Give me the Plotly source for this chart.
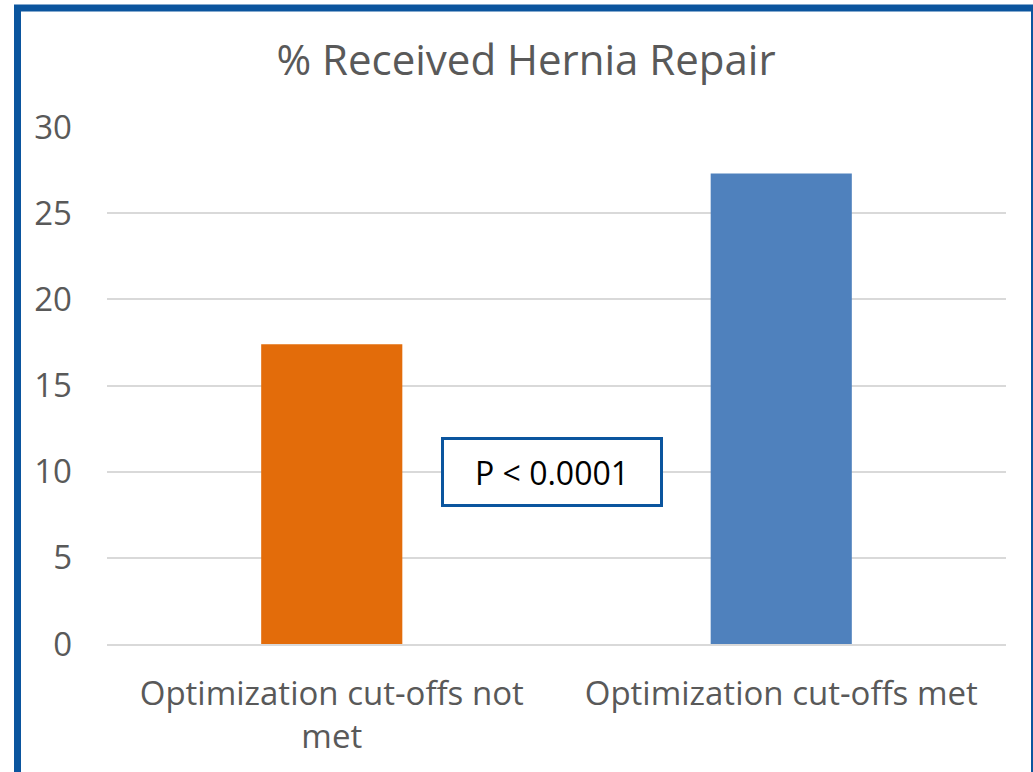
import plotly.graph_objects as go

categories = ["Optimization cut-offs not<br>met", "Optimization cut-offs met"]
values = [17.4, 27.3]
bar_colors = ["#E36C0A", "#4F81BD"]
title_text = "% Received Hernia Repair"
p_text = "P < 0.0001"

W, H = 1033, 772
L, R, T, B = 107, 27, 127, 128
FONT = "Open Sans"

fig = go.Figure()
fig.add_trace(go.Bar(x=categories, y=values, marker=dict(color=bar_colors, line=dict(width=0)),
                     width=0.314, showlegend=False))

# p-value box
fig.add_annotation(x=0.49, y=10, xref="x", yref="y", text=p_text, showarrow=False,
                   font=dict(family=FONT, size=32, color="black"),
                   bordercolor="#0B559E", borderwidth=3, borderpad=12,
                   bgcolor="white", width=192, height=40)

# outer blue frame
fig.add_shape(type="rect", xref="paper", yref="paper",
              x0=(17.5 - L) / (W - L - R), x1=(1034.5 - L) / (W - L - R),
              y0=(H - B - 800) / (H - T - B), y1=(H - B - 8) / (H - T - B),
              line=dict(color="#0B559E", width=7), fillcolor="rgba(0,0,0,0)")

fig.update_layout(
    width=W, height=H,
    margin=dict(l=L, r=R, t=T, b=B),
    paper_bgcolor="white", plot_bgcolor="white",
    font=dict(family=FONT, color="#595959"),
    title=dict(text=title_text, x=526 / W, xref="container", xanchor="center",
               y=1 - 60 / H, yref="container", yanchor="middle",
               font=dict(family=FONT, size=42, color="#595959")),
)
fig.update_yaxes(range=[0, 30], dtick=5, showgrid=True, gridcolor="#D9D9D9", gridwidth=2,
                 zeroline=False, showline=False, ticks="", ticklabelstandoff=34,
                 tickfont=dict(family=FONT, size=33, color="#595959"))
fig.update_xaxes(showgrid=False, showline=True, linecolor="#D9D9D9", linewidth=2,
                 ticks="", ticklabelstandoff=19,
                 tickfont=dict(family=FONT, size=33, color="#595959"))

fig.write_html("out.html", config={"displayModeBar": False},
               post_script="document.body.style.margin='0';")
